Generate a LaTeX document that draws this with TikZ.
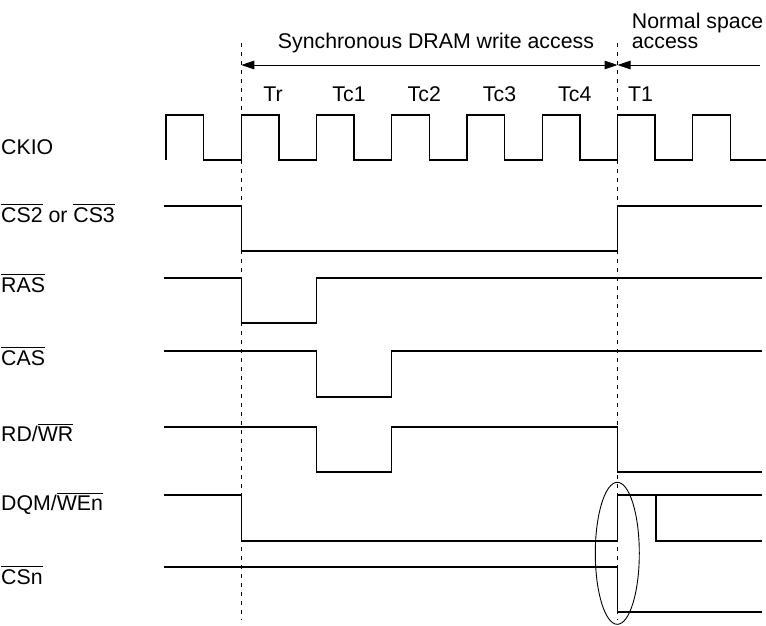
\documentclass[tikz,border=0pt]{standalone}
\usepackage{fontspec}
\setmainfont{Liberation Sans}
\usetikzlibrary{arrows.meta}
\newcommand{\ovl}[1]{\setbox0\hbox{#1}\rlap{\rule[\dimexpr\ht0+1.8pt\relax]{\wd0}{1pt}}\box0\relax}
\tikzset{
  sig/.style={line width=1.4pt, line join=miter},
  guide/.style={line width=1pt, dash pattern=on 4pt off 5pt},
  dim/.style={line width=1pt},
  lbl/.style={anchor=base west, inner sep=0pt},
  per/.style={anchor=base, inner sep=0pt},
}
\begin{document}
\begin{tikzpicture}[x=1pt, y=-1pt, font=\fontsize{21.3}{25}\selectfont]
\useasboundingbox (0,0) rectangle (766,625);

% guide line end points
\coordinate (gA) at (241.25,43);
\coordinate (gAb) at (241.25,620);
\coordinate (gB) at (617.5,43);
\coordinate (gBb) at (617.5,620);

% guide lines
\draw[guide] (gA) -- (gAb);
\draw[guide] (gB) -- (gBb);

% header texts
\node[lbl] (sync) at (277.7,48) {Synchronous DRAM write access};
\node[lbl] (norm1) at (631.7,28) {Normal space};
\node[lbl] (norm2) at (631.7,48) {access};

% dimension arrows
\coordinate (aL) at (241.25,65);
\coordinate (aM) at (617.5,65);
\coordinate (aR) at (760,65);
\draw[dim, {Triangle[length=13pt,width=8.5pt]}-{Triangle[length=13pt,width=8.5pt]}] (aL) -- (aM);
\draw[dim, -{Triangle[length=13pt,width=8.5pt]}] (aR) -- (aM);

% period labels
\node[per] (tr) at (273,101.7) {Tr};
\node[per] (tc1) at (349,101.7) {Tc1};
\node[per] (tc2) at (424.3,101.7) {Tc2};
\node[per] (tc3) at (499.5,101.7) {Tc3};
\node[per] (tc4) at (574.8,101.7) {Tc4};
\node[per] (t1) at (640.5,101.7) {T1};

% signal labels
\node[lbl] (lckio) at (1,154) {CKIO};
\node[lbl] (lcs) at (1,222) {\ovl{CS2} or \ovl{CS3}};
\node[lbl] (lras) at (1,292) {\ovl{RAS}};
\node[lbl] (lcas) at (1,365) {\ovl{CAS}};
\node[lbl] (lrdwr) at (1,441) {RD/\ovl{WR}};
\node[lbl] (ldqm) at (1,510) {DQM/\ovl{WEn}};
\node[lbl] (lcsn) at (1,584) {\ovl{CSn}};

% clock
\draw[sig] (166,160)
  \foreach \k in {0,...,7} {
    -- ({166+75.25*\k},115) -- ({166+75.25*\k+37.6},115)
    -- ({166+75.25*\k+37.6},160) -- ({166+75.25*(\k+1)},160)
  };

% CS2 / CS3
\draw[sig] (164,206) -- (241.25,206) -- (241.25,251) -- (617.5,251) -- (617.5,206) -- (762,206);
% RAS
\draw[sig] (164,278) -- (241.25,278) -- (241.25,323) -- (316.5,323) -- (316.5,278) -- (762,278);
% CAS
\draw[sig] (164,351) -- (316.5,351) -- (316.5,397) -- (391.75,397) -- (391.75,351) -- (762,351);
% RD/WR
\draw[sig] (164,427) -- (316.5,427) -- (316.5,472) -- (391.75,472) -- (391.75,427) -- (617.5,427) -- (617.5,472) -- (762,472);
% DQM/WEn
\draw[sig] (164,495) -- (241.25,495) -- (241.25,541) -- (617.5,541) -- (617.5,495) -- (762,495);
\draw[sig] (656,495) -- (656,541) -- (762,541);
% CSn
\draw[sig] (164,567) -- (617.5,567) -- (617.5,612) -- (762,612);

% ellipse
\draw[line width=0.9pt] (617.3,553.3) ellipse [x radius=22, y radius=71];
\end{tikzpicture}
\end{document}
